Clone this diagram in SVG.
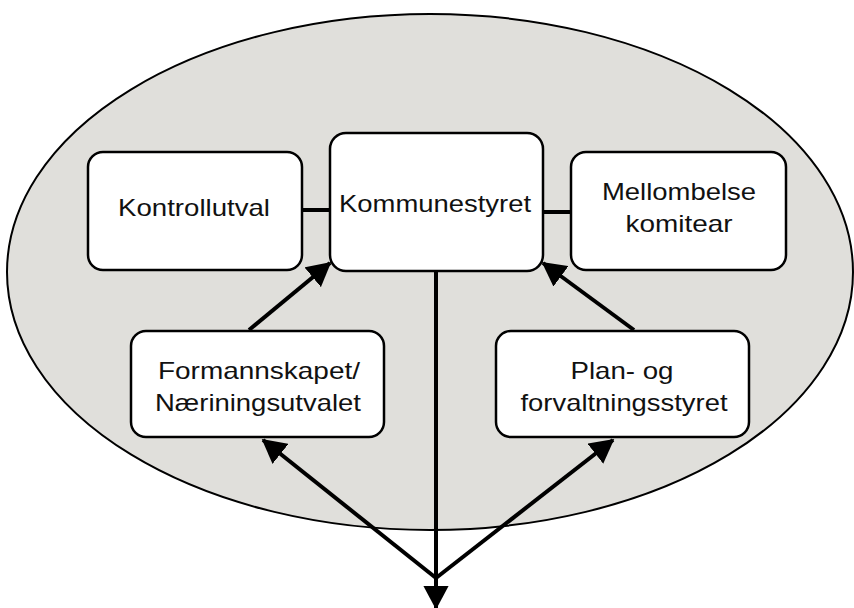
<svg xmlns="http://www.w3.org/2000/svg" width="854" height="608" viewBox="0 0 854 608">
<style>
.box{fill:#fff;stroke:#000;stroke-width:2.5}
.t{font-family:"Liberation Sans",Arial,sans-serif;font-size:24px;fill:#111;text-anchor:middle}
.c{stroke:#000;stroke-width:4;fill:none}
</style>
<defs>
<marker id="ah" markerWidth="6" markerHeight="6.4" refX="5.6" refY="3.2" orient="auto" markerUnits="strokeWidth">
<path d="M0,0 L6,3.2 L0,6.4 Z" fill="#000"/>
</marker>
</defs>
<rect width="854" height="608" fill="#fff"/>
<ellipse id="frame" cx="430" cy="272" rx="423" ry="258" fill="#e0dfdb" stroke="#000" stroke-width="2"/>
<g id="connectors">
<line class="c" x1="302" y1="210" x2="330" y2="210"/>
<line class="c" x1="543" y1="212" x2="571" y2="212"/>
<line class="c" x1="249" y1="330" x2="330" y2="263" marker-end="url(#ah)"/>
<line class="c" x1="634" y1="330" x2="543" y2="263" marker-end="url(#ah)"/>
<line class="c" x1="436" y1="271" x2="436" y2="608" marker-end="url(#ah)"/>
<line class="c" x1="436" y1="578" x2="263" y2="440" marker-end="url(#ah)"/>
<line class="c" x1="436" y1="578" x2="613" y2="440" marker-end="url(#ah)"/>
</g>
<g id="kontrollutval">
<rect class="box" x="88" y="152" width="214" height="118" rx="15"/>
<text class="t" x="194" y="216" textLength="152" lengthAdjust="spacingAndGlyphs">Kontrollutval</text>
</g>
<g id="kommunestyret">
<rect class="box" x="330" y="133" width="213" height="138" rx="16"/>
<text class="t" x="435" y="212" textLength="192" lengthAdjust="spacingAndGlyphs">Kommunestyret</text>
</g>
<g id="mellombelse">
<rect class="box" x="571" y="152" width="215" height="118" rx="15"/>
<text class="t" x="679" y="200" textLength="154" lengthAdjust="spacingAndGlyphs">Mellombelse</text>
<text class="t" x="679" y="232" textLength="107" lengthAdjust="spacingAndGlyphs">komitear</text>
</g>
<g id="formannskapet">
<rect class="box" x="131" y="331" width="253" height="106" rx="15"/>
<text class="t" x="259" y="379" textLength="202" lengthAdjust="spacingAndGlyphs">Formannskapet/</text>
<text class="t" x="258" y="411" textLength="206" lengthAdjust="spacingAndGlyphs">Næriningsutvalet</text>
</g>
<g id="plan">
<rect class="box" x="496" y="331" width="253" height="106" rx="15"/>
<text class="t" x="622" y="379" textLength="103" lengthAdjust="spacingAndGlyphs">Plan- og</text>
<text class="t" x="624" y="411" textLength="207" lengthAdjust="spacingAndGlyphs">forvaltningsstyret</text>
</g>
</svg>
